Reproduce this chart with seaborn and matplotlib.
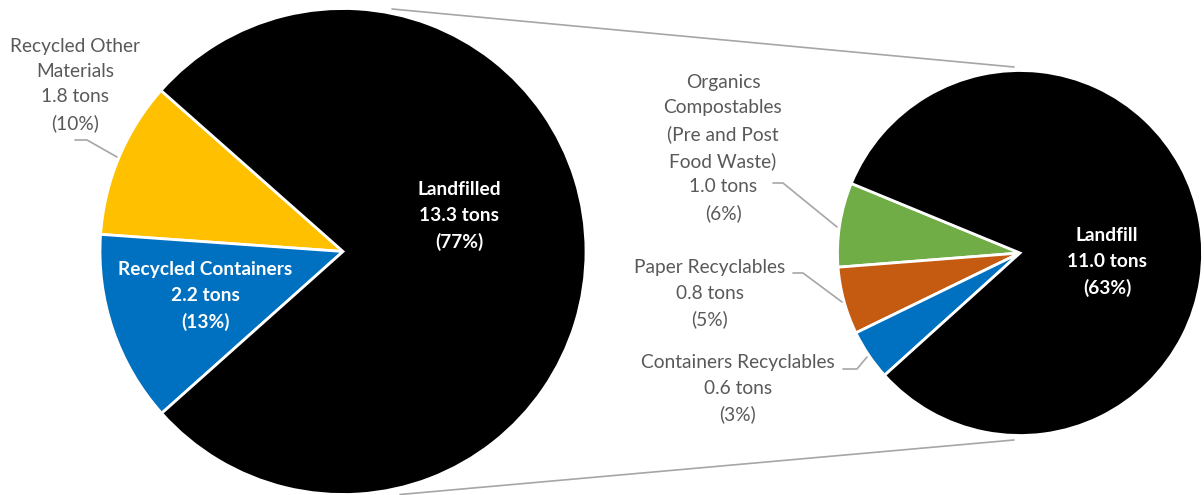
import matplotlib
matplotlib.use("Agg")
import matplotlib.pyplot as plt
import seaborn as sns

sns.set_theme(style="white")
plt.rcParams['font.family'] = ['Lato', 'DejaVu Sans']

# ---- data ----
main_names = ["Recycled Other\nMaterials", "Recycled Containers", "Landfilled"]
main_tons = [1.8, 2.2, 13.3]
main_pct = [10, 13, 77]
main_colors = ["#FFC000", "#0070C0", "#000000"]

sub_names = ["Organics\nCompostables\n(Pre and Post\nFood Waste)", "Paper Recyclables",
             "Containers Recyclables", "Landfill"]
sub_tons = [1.0, 0.8, 0.6, 11.0]
sub_pct = [6, 5, 3, 63]
sub_colors = ["#70AD47", "#C55A11", "#0070C0", "#000000"]

W, H = 1204, 495
fig = plt.figure(figsize=(W / 100, H / 100), dpi=100)
ax = fig.add_axes([0, 0, 1, 1])

def Y(y):
    return H - y

wp = dict(edgecolor="white", linewidth=2.0)
ax.pie(main_tons, colors=main_colors, startangle=138.5, counterclock=True,
       center=(343, Y(251.5)), radius=243, wedgeprops=wp, frame=False)
ax.pie(sub_tons, colors=sub_colors, startangle=157.6, counterclock=True,
       center=(1020, Y(253)), radius=182.5, wedgeprops=wp, frame=False)

ax.set_xlim(0, W)
ax.set_ylim(0, H)
ax.set_aspect("equal")
ax.axis("off")

gray_line = "#A6A6A6"
# connector lines
ax.plot([392, 1014], [Y(9), Y(67)], color=gray_line, lw=1.2, zorder=0)
ax.plot([400, 1014], [Y(494.5), Y(440)], color=gray_line, lw=1.2, zorder=0)

def lab(name, t, p):
    return f"{name}\n{t:.1f} tons\n({p}%)"

fs = 13.8
ls = 1.6
tgray = "#595959"

# main pie labels
ax.text(75, Y(85), lab(main_names[0], main_tons[0], main_pct[0]), ha="center", va="center",
        color=tgray, fontsize=fs, linespacing=ls)
ax.plot([75, 87, 117], [Y(140), Y(140), Y(157)], color=gray_line, lw=1.2)
ax.text(205, Y(296), lab(main_names[1], main_tons[1], main_pct[1]), ha="center", va="center",
        color="white", fontsize=fs, fontweight="bold", linespacing=ls)
ax.text(459, Y(216), lab(main_names[2], main_tons[2], main_pct[2]), ha="center", va="center",
        color="white", fontsize=fs, fontweight="bold", linespacing=ls)

# sub pie labels
ax.text(723, Y(148), lab(sub_names[0], sub_tons[0], sub_pct[0]), ha="center", va="center",
        color=tgray, fontsize=fs, linespacing=ls)
ax.plot([773, 783, 837], [Y(183), Y(183), Y(227)], color=gray_line, lw=1.2)
ax.text(710, Y(294), lab(sub_names[1], sub_tons[1], sub_pct[1]), ha="center", va="center",
        color=tgray, fontsize=fs, linespacing=ls)
ax.plot([793, 803, 842], [Y(273), Y(273), Y(302)], color=gray_line, lw=1.2)
ax.text(738, Y(389), lab(sub_names[2], sub_tons[2], sub_pct[2]), ha="center", va="center",
        color=tgray, fontsize=fs, linespacing=ls)
ax.plot([843, 857, 867], [Y(369), Y(369), Y(357)], color=gray_line, lw=1.2)
ax.text(1107, Y(262), lab(sub_names[3], sub_tons[3], sub_pct[3]), ha="center", va="center",
        color="white", fontsize=fs, fontweight="bold", linespacing=ls)

fig.savefig("out.png", dpi=100, facecolor="white")
